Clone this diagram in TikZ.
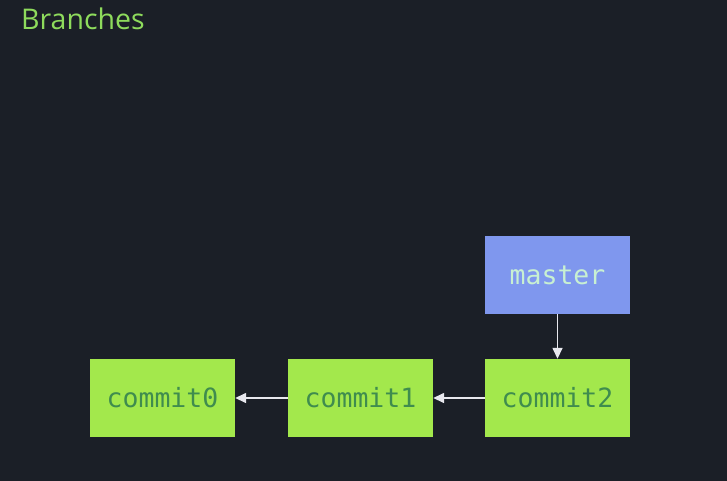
\documentclass[tikz,border=0pt]{standalone}
\usepackage{fontspec}
\setmainfont{Open Sans}
\setmonofont{DejaVu Sans Mono}
\usetikzlibrary{arrows.meta}
\definecolor{bg}{HTML}{1B1F27}
\definecolor{commitfill}{HTML}{A3E84C}
\definecolor{committext}{HTML}{3F8C4E}
\definecolor{branchfill}{HTML}{7F97EE}
\definecolor{branchtext}{HTML}{C8F0D2}
\definecolor{titlecol}{HTML}{8EDB5C}
\definecolor{arrowcol}{HTML}{E8E8EE}
\tikzset{
  box/.style={minimum width=145pt, minimum height=78pt, inner sep=0pt, font=\ttfamily\fontsize{26.5}{26.5}\selectfont},
  commitbox/.style={box, fill=commitfill, text=committext},
  branchbox/.style={box, fill=branchfill, text=branchtext},
  link/.style={draw=arrowcol, line width=1.5pt, -{Triangle[length=11pt,width=10pt]}},
}
\begin{document}
\begin{tikzpicture}[x=1pt,y=-1pt]
\fill[bg] (0,0) rectangle (727,481);
\useasboundingbox (0,0) rectangle (727,481);
\node[anchor=base west, text=titlecol, font=\fontsize{28.5}{28.5}\selectfont, inner sep=0pt] (title) at (21,30) {Branches};
\node[commitbox] (c0) at (162.5,398) {commit0};
\node[commitbox] (c1) at (360.5,398) {commit1};
\node[commitbox] (c2) at (557.5,398) {commit2};
\node[branchbox] (master) at (557.5,275) {master};
\draw[link] (c1.west) -- (c0.east);
\draw[link] (c2.west) -- (c1.east);
\draw[link] (master.south) -- (c2.north);
\end{tikzpicture}
\end{document}
